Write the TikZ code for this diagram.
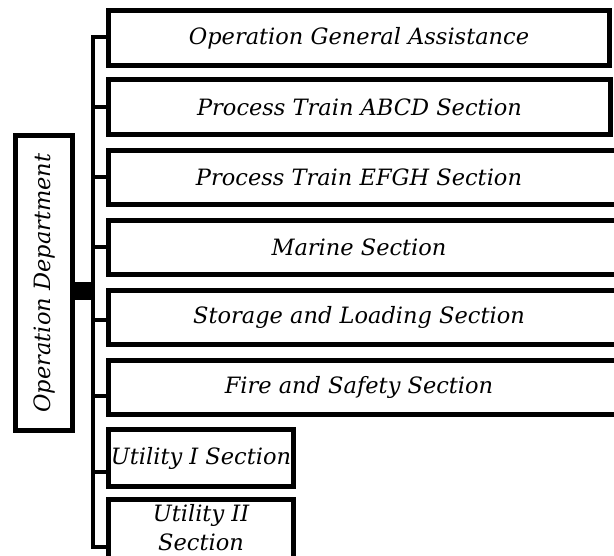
\documentclass[tikz,border=0pt]{standalone}
\usepackage{fontspec}
\setmainfont{DejaVu Serif}
\newcommand\cutbox[1]{\makebox[561pt][l]{\makebox[501pt]{#1}}}
\begin{document}
\begin{tikzpicture}[x=1pt,y=-1pt,
  box/.style={draw, line width=5pt, inner sep=0pt, font=\itshape\fontsize{22.5}{26}\selectfont, align=center},
  conn/.style={line width=4pt, line join=miter}]
\clip (0,0) rectangle (614,556);
\node[box, minimum width=501pt, minimum height=55pt] (b1) at (359,38) {Operation General Assistance};
\node[box, minimum width=502pt, minimum height=55pt] (b2) at (359.5,107) {Process Train ABCD Section};
\node[box, minimum width=561pt, minimum height=54pt] (b3) at (389,177.5) {\cutbox{Process Train EFGH Section}};
\node[box, minimum width=561pt, minimum height=54pt] (b4) at (389,247.5) {\cutbox{Marine Section}};
\node[box, minimum width=561pt, minimum height=54pt] (b5) at (389,317.5) {\cutbox{Storage and Loading Section}};
\node[box, minimum width=561pt, minimum height=54pt] (b6) at (389,387.5) {\cutbox{Fire and Safety Section}};
\node[box, minimum width=185pt, minimum height=57pt] (u1) at (201,458) {Utility I Section};
\node[box, minimum width=185pt, minimum height=75pt,
  label={[name=u2t, font=\itshape\fontsize{22.5}{29}\selectfont, align=center, yshift=9pt]center:Utility II\\Section}] (u2) at (201,537) {};
\node[box, rotate=90, minimum width=295pt, minimum height=57pt] (op) at (44,283) {Operation Department};
\coordinate (bus) at (93,0);
\draw[conn] ([yshift=1pt]b1.west) -- ([yshift=1pt]b1.west -| bus) -- ([yshift=-10pt]u2.west -| bus) -- ([yshift=-10pt]u2.west);
\foreach \n/\d in {b2/0, b3/0, b4/0, b5/-2.5, b6/-8.5, u1/-14}
  \draw[conn] ([yshift=\d pt]\n.west) -- ([yshift=\d pt]\n.west -| bus);
\foreach \d in {-2,-8,-14}
  \draw[line width=5.5pt] ([yshift=\d pt]op.south) -- ([yshift=\d pt]op.south -| bus);
\end{tikzpicture}
\end{document}
